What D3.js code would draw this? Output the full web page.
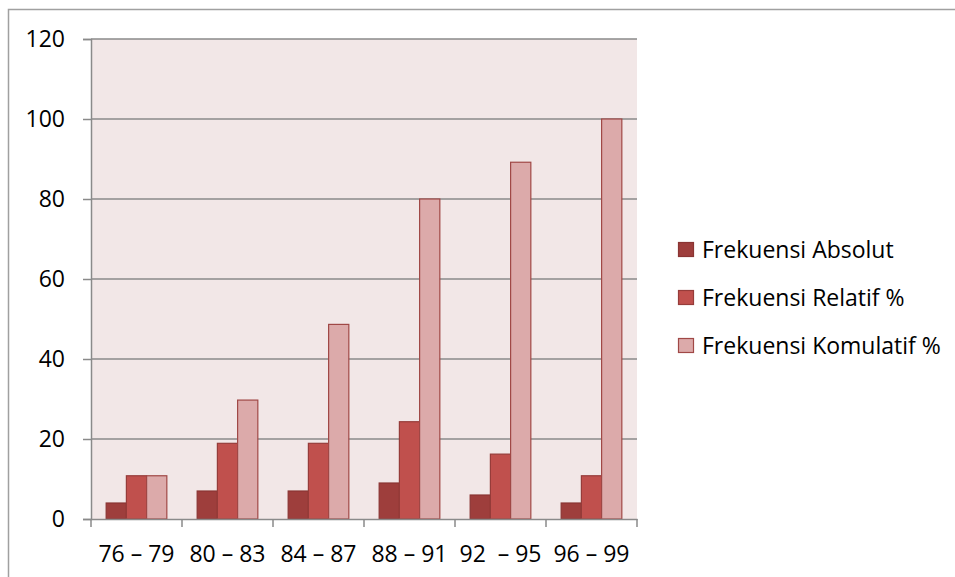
<!DOCTYPE html>
<html>
<head>
<meta charset="utf-8">
<script src="https://cdn.jsdelivr.net/npm/d3@7"></script>
<style>
  body { margin: 0; background: #fff; }
  svg { display: block; }
  text { font-family: "Open Sans", sans-serif; fill: #000; }
</style>
</head>
<body>
<svg width="955" height="577"></svg>
<script>
// data
const categories = ["76 – 79", "80 – 83", "84 – 87", "88 – 91", "92  – 95", "96 – 99"];
const seriesNames = ["Frekuensi Absolut", "Frekuensi Relatif %", "Frekuensi Komulatif %"];
const absolut = [4, 7, 7, 9, 6, 4];
const relatif = [10.81, 18.92, 18.92, 24.32, 16.22, 10.81];
const komulatif = [10.81, 29.73, 48.65, 80, 89.19, 100];
const yTicks = [0, 20, 40, 60, 80, 100, 120];

let svg = d3.select("svg");
let plot = { left: 91, right: 637, top: 39, bottom: 519 };
let fills = ["#9e3e3c", "#c0504d", "#dcaaaa"];
let strokes = ["#8a3533", "#963c3a", "#a04846"];
let axisColor = "#8a8a8a";
let fontSize = "23px";

// chart frame
svg.append("rect")
    .attr("x", 8.5).attr("y", 9.5)
    .attr("width", 950).attr("height", 600)
    .attr("fill", "none")
    .attr("stroke", "#a0a0a0")
    .attr("stroke-width", 1.5);

let y = d3.scaleLinear().domain([0, 120]).range([plot.bottom, plot.top]);
let x0 = d3.scaleBand().domain(categories).range([plot.left, plot.right]);
let x1 = d3.scaleBand().domain(seriesNames).range([0, x0.bandwidth()]).paddingOuter(0.75);

// plot background
svg.append("rect")
    .attr("x", plot.left).attr("y", plot.top)
    .attr("width", plot.right - plot.left).attr("height", plot.bottom - plot.top)
    .attr("fill", "#f2e7e7");

// gridlines
svg.append("g")
    .selectAll("line")
    .data(yTicks.filter(d => d > 0))
    .enter()
    .append("line")
    .attr("x1", plot.left).attr("x2", plot.right)
    .attr("y1", d => y(d)).attr("y2", d => y(d))
    .attr("stroke", axisColor)
    .attr("stroke-width", 1.5);

// bars
let rows = categories.map((c, i) => ({ cat: c, values: [absolut[i], relatif[i], komulatif[i]] }));
svg.append("g")
    .selectAll("g")
    .data(rows)
    .enter()
    .append("g")
    .attr("transform", d => "translate(" + x0(d.cat) + ",0)")
    .selectAll("rect")
    .data(d => d.values.map((v, k) => ({ key: seriesNames[k], k: k, value: v })))
    .enter()
    .append("rect")
    .attr("x", d => x1(d.key))
    .attr("y", d => y(d.value))
    .attr("width", x1.bandwidth())
    .attr("height", d => y(0) - y(d.value))
    .attr("fill", d => fills[d.k])
    .attr("stroke", d => strokes[d.k])
    .attr("stroke-width", 1.2);

// y axis
let yAxis = svg.append("g")
    .attr("transform", "translate(" + plot.left + ",0)")
    .call(d3.axisLeft(y).tickValues(yTicks).tickSize(8).tickPadding(18));
yAxis.select(".domain").attr("stroke", axisColor).attr("stroke-width", 1.5);
yAxis.selectAll(".tick line").attr("stroke", axisColor).attr("stroke-width", 1.5);
yAxis.selectAll("text").style("font-size", fontSize).attr("fill", "#000");

// x axis
let xAxis = svg.append("g")
    .attr("transform", "translate(0," + plot.bottom + ")")
    .call(d3.axisBottom(x0).tickSize(0).tickPadding(27));
xAxis.select(".domain").attr("stroke", axisColor).attr("stroke-width", 1.5);
xAxis.selectAll("text")
    .style("font-size", fontSize)
    .style("white-space", "pre")
    .attr("fill", "#000");
// tick marks at category boundaries
xAxis.append("g")
    .selectAll("line")
    .data(categories.map(c => x0(c)).concat([plot.right]))
    .enter()
    .append("line")
    .attr("x1", d => d).attr("x2", d => d)
    .attr("y1", 0).attr("y2", 8)
    .attr("stroke", axisColor)
    .attr("stroke-width", 1.5);

// legend
let legend = svg.append("g")
    .selectAll("g")
    .data(seriesNames)
    .enter()
    .append("g")
    .attr("transform", (d, i) => "translate(678," + (250 + i * 48) + ")");
legend.append("rect")
    .attr("x", 0.5).attr("y", -7.5)
    .attr("width", 15).attr("height", 14)
    .attr("fill", (d, i) => fills[i])
    .attr("stroke", (d, i) => strokes[i])
    .attr("stroke-width", 1.2);
legend.append("text")
    .attr("x", 24)
    .attr("dy", "0.35em")
    .style("font-size", fontSize)
    .text(d => d);
</script>
</body>
</html>
